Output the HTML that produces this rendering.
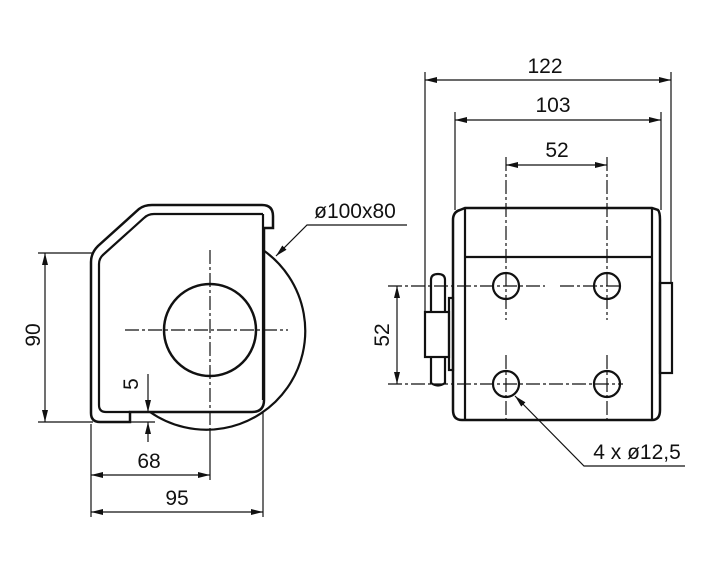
<!DOCTYPE html>
<html><head><meta charset="utf-8"><style>
html,body{margin:0;padding:0;background:#fff;}
svg{display:block}
text{font-family:"Liberation Sans",sans-serif;font-size:21px;fill:#111}
</style></head><body>
<svg width="716" height="574" viewBox="0 0 716 574" xmlns="http://www.w3.org/2000/svg">
<defs>
<marker id="a" viewBox="0 0 12 6" refX="12" refY="3" markerWidth="12" markerHeight="6" orient="auto-start-reverse" markerUnits="userSpaceOnUse"><path d="M0,0 L12,3 L0,6 z" fill="#111"/></marker>
</defs>
<g fill="none" stroke="#111">
<path d="M263,250 A95,95 0 0 1 150,412" stroke-width="2.2"/>
<path d="M91,262 Q91,253 98,246 L139,209 Q144,205 152,205 L262,205 Q273,205 273,216 L273,228 L264,228 L264,400 Q264,412 252,412 L130,412 L130,422 L100,422 Q91,422 91,413 Z" stroke-width="2.5"/>
<path d="M99,264 Q99,258 104,254 L144,218 Q148,214 154,214 L263,214" stroke-width="2.2"/>
<path d="M263,214 L263,400" stroke-width="2.2"/>
<path d="M99,264 L99,405 Q99,412 106,412 L130,412" stroke-width="2.2"/>
<circle cx="210" cy="330" r="46" stroke-width="2.5"/>
<path d="M125,330 L288,330" stroke-width="1.2" stroke-dasharray="14,3,3,3"/>
<path d="M210,250 L210,430" stroke-width="1.2" stroke-dasharray="14,3,3,3"/>
<path d="M38,253 L93,253 M38,422 L93,422" stroke-width="1.2"/>
<path d="M45,253 L45,422" stroke-width="1.2" marker-start="url(#a)" marker-end="url(#a)"/>
<path d="M148,374 L148,412" stroke-width="1.2" marker-end="url(#a)"/>
<path d="M148,442 L148,422" stroke-width="1.2" marker-end="url(#a)"/>
<path d="M130,422 L155,422" stroke-width="1.2"/>
<path d="M91,424 L91,517 M210,430 L210,480 M263,412 L263,517" stroke-width="1.2"/>
<path d="M91,475 L210,475" stroke-width="1.2" marker-start="url(#a)" marker-end="url(#a)"/>
<path d="M91,512 L263,512" stroke-width="1.2" marker-start="url(#a)" marker-end="url(#a)"/>
<path d="M407,225 L307,225 L276,256" stroke-width="1.2" marker-end="url(#a)"/>

<path d="M453,220 Q453,212 460,210 L465,208 L652,208 L658,210 Q660,212 660,220 L660,410 Q660,420 652,420 L462,420 Q453,420 453,410 Z" stroke-width="2.5"/>
<path d="M465,208 L465,420 M652,208 L652,420 M465,257 L652,257" stroke-width="2.2"/>
<rect x="660" y="283" width="12" height="90" stroke-width="2.2"/>
<rect x="449" y="298" width="4" height="72" stroke-width="2.2"/>
<rect x="425" y="312" width="24" height="45" stroke-width="2.2"/>
<path d="M431,312 L431,280 Q431,274 438,274 Q445,274 445,280 L445,312 M431,357 L431,383 Q438,388 445,383 L445,357" stroke-width="2.2"/>
<circle cx="506" cy="286" r="13" stroke-width="2.2"/>
<circle cx="607" cy="286" r="13" stroke-width="2.2"/>
<circle cx="506" cy="384" r="13" stroke-width="2.2"/>
<circle cx="607" cy="384" r="13" stroke-width="2.2"/>
<path d="M388,286 L545,286 M560,286 L623,286 M388,384 L623,384" stroke-width="1.2" stroke-dasharray="14,3,3,3"/>
<path d="M506,157 L506,320 M506,355 L506,420 M607,157 L607,320 M607,355 L607,420" stroke-width="1.2" stroke-dasharray="14,3,3,3"/>
<path d="M425,72 L425,312 M671,72 L671,283 M455,112 L455,210 M661,112 L661,210" stroke-width="1.2"/>
<path d="M425,80 L671,80" stroke-width="1.2" marker-start="url(#a)" marker-end="url(#a)"/>
<path d="M455,120 L661,120" stroke-width="1.2" marker-start="url(#a)" marker-end="url(#a)"/>
<path d="M506,165 L607,165" stroke-width="1.2" marker-start="url(#a)" marker-end="url(#a)"/>
<path d="M397,286 L397,384" stroke-width="1.2" marker-start="url(#a)" marker-end="url(#a)"/>
<path d="M685,466 L584,466 L515,396" stroke-width="1.2" marker-end="url(#a)"/>
</g>
<text x="545" y="73" text-anchor="middle">122</text>
<text x="553" y="112" text-anchor="middle">103</text>
<text x="557" y="157" text-anchor="middle">52</text>
<text x="355" y="218" text-anchor="middle">ø100x80</text>
<text x="637" y="459" text-anchor="middle">4 x ø12,5</text>
<text x="149" y="468" text-anchor="middle">68</text>
<text x="177" y="505" text-anchor="middle">95</text>
<text transform="translate(40,335) rotate(-90)" text-anchor="middle">90</text>
<text transform="translate(138,384) rotate(-90)" text-anchor="middle">5</text>
<text transform="translate(389,335) rotate(-90)" text-anchor="middle">52</text>
</svg>
</body></html>
